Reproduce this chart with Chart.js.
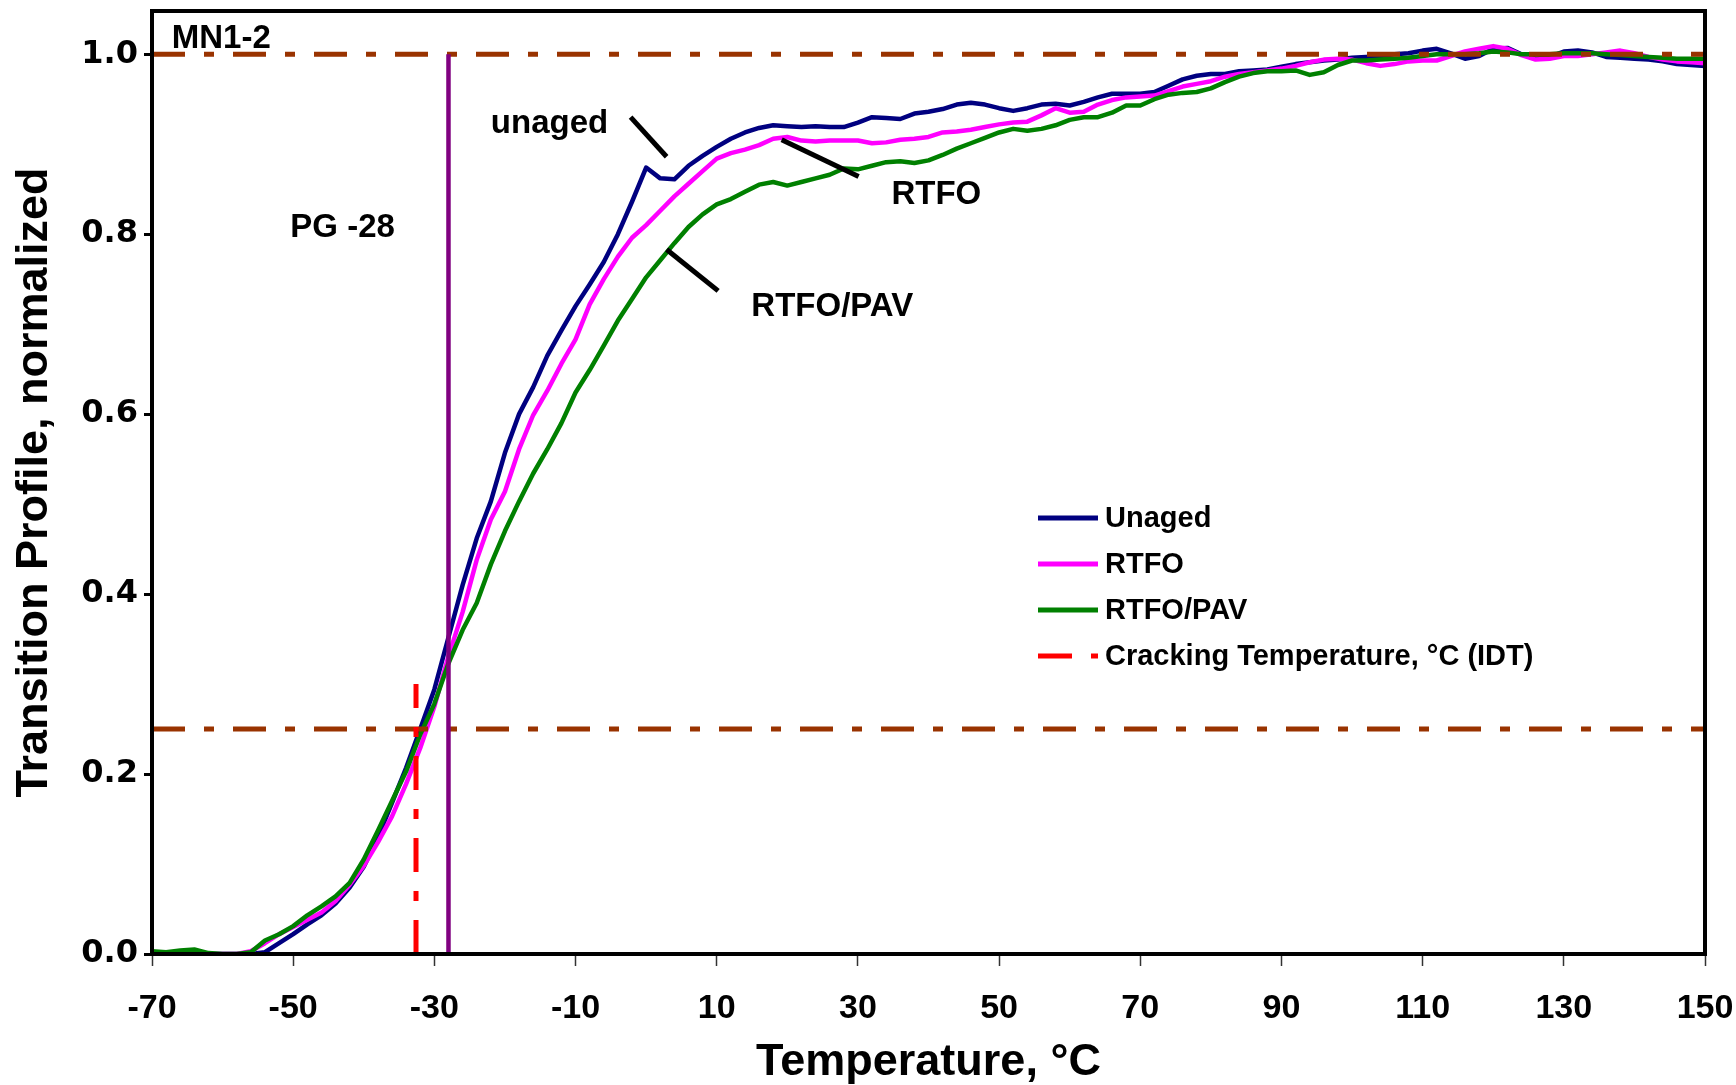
<!DOCTYPE html>
<html lang="en">
<head>
<meta charset="UTF-8">
<title>MN1-2 Transition Profile</title>
<script src="https://cdn.jsdelivr.net/npm/chart.js"></script>
<style>
  html, body { margin: 0; padding: 0; background: #fff; }
  #wrap { width: 1736px; height: 1085px; position: relative; }
</style>
</head>
<body>
<div id="wrap"><canvas id="grafica"></canvas></div>
<script>
// temperature grid, °C
const tempC = [-70,-68,-66,-64,-62,-60,-58,-56,-54,-52,-50,-48,-46,-44,-42,-40,-38,-36,-34,-32,
  -30,-28,-26,-24,-22,-20,-18,-16,-14,-12,-10,-8,-6,-4,-2,0,2,4,6,8,
  10,12,14,16,18,20,22,24,26,28,30,32,34,36,38,40,42,44,46,48,
  50,52,54,56,58,60,62,64,66,68,70,72,74,76,78,80,82,84,86,88,
  90,92,94,96,98,100,102,104,106,108,110,112,114,116,118,120,122,124,126,128,
  130,132,134,136,138,140,142,144,146,148,150];

// transition profile, normalized
const unaged = [0,0,0,0,0,0,0,0,0.002,0.012,0.022,0.033,0.043,0.056,0.074,0.097,0.130,0.168,0.207,0.250,
  0.294,0.352,0.410,0.462,0.503,0.557,0.600,0.630,0.665,0.693,0.720,0.744,0.769,0.800,0.836,0.874,0.862,0.861,0.876,0.887,
  0.897,0.906,0.913,0.918,0.921,0.920,0.919,0.920,0.919,0.919,0.924,0.930,0.929,0.928,0.934,0.936,0.939,0.944,0.946,0.944,
  0.940,0.937,0.940,0.944,0.945,0.943,0.947,0.952,0.956,0.956,0.956,0.958,0.965,0.972,0.976,0.978,0.978,0.981,0.982,0.983,
  0.986,0.989,0.991,0.993,0.994,0.996,0.997,0.998,1.000,1.001,1.004,1.006,1.001,0.995,0.998,1.006,1.007,1.000,0.995,0.997,
  1.003,1.004,1.002,0.997,0.996,0.995,0.994,0.992,0.989,0.988,0.987];

const rtfo = [0,0,0,0,0,0,0,0.003,0.012,0.022,0.030,0.038,0.046,0.059,0.077,0.098,0.124,0.153,0.189,0.229,
  0.275,0.331,0.380,0.438,0.483,0.514,0.561,0.599,0.626,0.656,0.683,0.722,0.750,0.775,0.796,0.810,0.826,0.842,0.856,0.870,
  0.884,0.890,0.894,0.899,0.906,0.908,0.904,0.903,0.904,0.904,0.904,0.901,0.902,0.905,0.906,0.908,0.913,0.914,0.916,0.919,
  0.922,0.924,0.925,0.932,0.940,0.935,0.936,0.944,0.949,0.952,0.953,0.954,0.959,0.964,0.967,0.970,0.975,0.978,0.980,0.982,
  0.984,0.987,0.991,0.994,0.995,0.994,0.990,0.987,0.989,0.992,0.993,0.993,0.998,1.003,1.006,1.009,1.006,0.999,0.994,0.995,
  0.998,0.998,1.000,1.002,1.004,1.001,0.997,0.994,0.992,0.991,0.990];

const rtfoPav = [0.003,0.002,0.004,0.005,0.001,0,0,0.002,0.015,0.022,0.031,0.043,0.053,0.064,0.079,0.105,0.137,0.170,0.203,0.244,
  0.278,0.323,0.360,0.390,0.433,0.470,0.503,0.534,0.561,0.590,0.624,0.649,0.676,0.704,0.728,0.752,0.771,0.790,0.808,0.822,
  0.833,0.839,0.847,0.855,0.858,0.854,0.858,0.862,0.866,0.873,0.872,0.876,0.880,0.881,0.879,0.882,0.888,0.895,0.901,0.907,
  0.913,0.917,0.915,0.917,0.921,0.927,0.930,0.930,0.935,0.943,0.943,0.950,0.955,0.957,0.958,0.962,0.969,0.975,0.979,0.981,
  0.981,0.982,0.977,0.980,0.988,0.993,0.993,0.994,0.995,0.996,0.998,1.000,1.000,1.000,1.001,1.003,1.002,1.000,1.000,1.000,
  1.001,1.001,1.001,1.000,0.999,0.998,0.997,0.996,0.995,0.995,0.995];

const xTicks = [-70,-50,-30,-10,10,30,50,70,90,110,130,150];
const yTicks = [0,0.2,0.4,0.6,0.8,1.0];

const pgLowTemp = -28;       // PG -28 grade line
const crackTemp = -32.6;     // IDT cracking temperature
const crackTop = 0.3;
const refLevels = [1.0, 0.25];

// annotation leader lines, [x1, y1, x2, y2] in data units
const leaderUnaged = [-2.2, 0.930, 2.9, 0.886];
const leaderRtfo = [19.2, 0.905, 30.1, 0.864];
const leaderPav = [2.9, 0.783, 10.2, 0.737];

// annotation texts (left / baseline, data units)
const notes = [
  { text: 'MN1-2', x: -67.2, y: 1.0067 },
  { text: 'PG -28', x: -50.4, y: 0.7967 },
  { text: 'unaged', x: -22.0, y: 0.9122 },
  { text: 'RTFO', x: 34.75, y: 0.8339 },
  { text: 'RTFO/PAV', x: 14.9, y: 0.7094 }
];

const arial = "'Liberation Sans', Arial, sans-serif";

function pts(vals) {
  return tempC.map((t, i) => ({ x: t, y: vals[i] }));
}
function seg(s) {
  return [{ x: s[0], y: s[1] }, { x: s[2], y: s[3] }];
}
function noPad(s) {
  s.paddingLeft = 0; s.paddingRight = 0; s.paddingTop = 0; s.paddingBottom = 0;
}

const datasets = [
  { label: 'Unaged', data: pts(unaged), borderColor: '#000080', borderWidth: 4.5, order: 9, legendRank: 1 },
  { label: 'RTFO', data: pts(rtfo), borderColor: '#FF00FF', borderWidth: 4.5, order: 8, legendRank: 2 },
  { label: 'RTFO/PAV', data: pts(rtfoPav), borderColor: '#008000', borderWidth: 4.5, order: 7, legendRank: 3 },
  { label: 'Cracking Temperature, °C (IDT)', data: [{ x: crackTemp, y: 0 }, { x: crackTemp, y: crackTop }],
    borderColor: '#FF0000', borderWidth: 5, borderDash: [34, 19, 10, 19], order: 3, legendRank: 4 },
  { label: 'PG', data: [{ x: pgLowTemp, y: 0 }, { x: pgLowTemp, y: 1 }], borderColor: '#800080', borderWidth: 4.5, order: 2 }
];
refLevels.forEach(v => datasets.push({
  label: 'ref ' + v, data: [{ x: xTicks[0], y: v }, { x: xTicks[xTicks.length - 1], y: v }],
  borderColor: '#993300', borderWidth: 5, borderDash: [33, 19, 10, 19], order: 4
}));
[leaderUnaged, leaderRtfo, leaderPav].forEach(s => datasets.push({
  label: 'leader', data: seg(s), borderColor: '#000', borderWidth: 5, order: 5
}));

const extras = {
  id: 'extras',
  afterDraw(chart) {
    const { ctx, chartArea: a, scales: { x, y } } = chart;
    ctx.save();
    // plot frame
    ctx.strokeStyle = '#000';
    ctx.lineWidth = 4;
    ctx.strokeRect(a.left, a.top, a.right - a.left, a.bottom - a.top);

    // notes
    ctx.fillStyle = '#000';
    ctx.font = 'bold 33px ' + arial;
    ctx.textAlign = 'left';
    ctx.textBaseline = 'alphabetic';
    notes.forEach(n => ctx.fillText(n.text, x.getPixelForValue(n.x), y.getPixelForValue(n.y)));

    // legend
    const items = chart.data.datasets.filter(d => d.legendRank).sort((p, q) => p.legendRank - q.legendRank);
    const lx = 1038, ly = 518, step = 46;
    ctx.font = 'bold 29px ' + arial;
    ctx.textBaseline = 'middle';
    items.forEach((d, i) => {
      const yy = ly + i * step;
      ctx.beginPath();
      ctx.setLineDash(d.borderDash || []);
      ctx.lineWidth = 5;
      ctx.lineCap = 'butt';
      ctx.strokeStyle = d.borderColor;
      ctx.moveTo(lx, yy);
      ctx.lineTo(lx + 60, yy);
      ctx.stroke();
      ctx.setLineDash([]);
      ctx.fillText(d.label, lx + 67, yy + 1);
    });
    ctx.restore();
  }
};

new Chart(document.getElementById('grafica').getContext('2d'), {
  type: 'line',
  data: { datasets: datasets },
  options: {
    responsive: true,
    maintainAspectRatio: false,
    animation: false,
    events: [],
    devicePixelRatio: 1,
    layout: { padding: { left: 0, top: 11, right: 31, bottom: 0 } },
    elements: {
      point: { radius: 0 },
      line: { tension: 0, borderCapStyle: 'butt', borderJoinStyle: 'round', fill: false }
    },
    plugins: { legend: { display: false }, tooltip: { enabled: false } },
    scales: {
      x: {
        type: 'linear',
        min: -70,
        max: 150,
        afterBuildTicks: s => { s.ticks = xTicks.map(v => ({ value: v })); },
        afterFit: s => { s.height = 131; noPad(s); },
        grid: { drawOnChartArea: false, drawTicks: true, tickLength: 12, tickWidth: 1.5, tickColor: '#333' },
        border: { display: true, color: '#000', width: 4 },
        ticks: {
          color: '#000', padding: 22, maxRotation: 0, autoSkip: false,
          font: { family: arial, size: 34, weight: 'bold' },
          callback: v => String(v)
        },
        title: {
          display: true, text: 'Temperature, °C', color: '#000',
          font: { family: arial, size: 45, weight: 'bold', lineHeight: 1 },
          padding: { top: 0, bottom: 0 }
        }
      },
      y: {
        type: 'linear',
        min: 0,
        max: 1.048,
        afterBuildTicks: s => { s.ticks = yTicks.map(v => ({ value: v })); },
        afterFit: s => { s.width = 152; noPad(s); },
        grid: { drawOnChartArea: false, drawTicks: true, tickLength: 8, tickWidth: 3, tickColor: '#000' },
        border: { display: true, color: '#000', width: 4 },
        ticks: {
          color: '#000', padding: 6,
          font: { family: "'DejaVu Sans', sans-serif", size: 32, weight: 'bold' },
          callback: v => v.toFixed(1)
        },
        title: {
          display: true, text: 'Transition Profile, normalized', color: '#000',
          font: { family: arial, size: 45, weight: 'bold', lineHeight: 1 },
          padding: { top: 12, bottom: 0 }
        }
      }
    }
  },
  plugins: [extras]
});
</script>
</body>
</html>
